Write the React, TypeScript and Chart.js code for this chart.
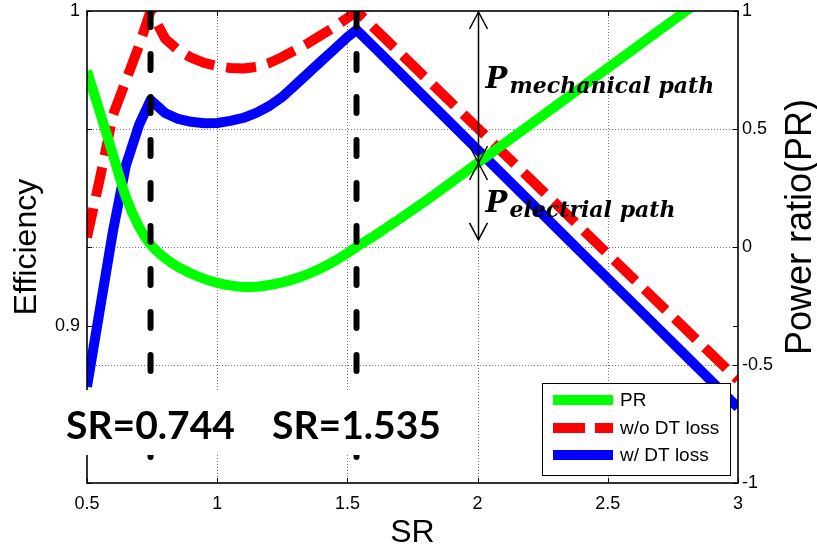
import React, { useEffect, useRef } from "react";
import { Chart, registerables } from "chart.js";

Chart.register(...registerables);

// ---- data ----
const SR = [0.5, 0.55, 0.6, 0.65, 0.7, 0.744, 0.8, 0.85, 0.9, 0.95, 1.0, 1.05, 1.1, 1.15, 1.2, 1.25, 1.3, 1.35, 1.4, 1.45, 1.5, 1.535, 1.6, 1.8, 2.0, 2.2, 2.4, 2.6, 2.8, 3.0];
const PR = [0.746, 0.57, 0.39, 0.21, 0.085, 0.01, -0.047, -0.085, -0.112, -0.135, -0.152, -0.163, -0.169, -0.168, -0.161, -0.15, -0.134, -0.114, -0.089, -0.06, -0.026, 0.0, 0.045, 0.195, 0.356, 0.517, 0.678, 0.839, 1.0, 1.16];
const EFF_NO_DT = [0.928, 0.947, 0.967, 0.978, 0.989, 1.0, 0.9912, 0.9876, 0.9852, 0.9835, 0.9825, 0.9819, 0.9817, 0.9822, 0.9835, 0.9854, 0.9876, 0.9898, 0.9924, 0.9949, 0.9978, 1.0, 0.9948, 0.9788, 0.9628, 0.9468, 0.9308, 0.9148, 0.8988, 0.8828];
const EFF_DT = [0.8806, 0.9054, 0.9302, 0.9511, 0.9638, 0.9717, 0.9676, 0.9657, 0.9648, 0.9643, 0.9644, 0.9651, 0.966, 0.9676, 0.9698, 0.9727, 0.9765, 0.9803, 0.9841, 0.9879, 0.9917, 0.994, 0.9887, 0.9723, 0.9559, 0.9395, 0.9231, 0.9068, 0.8904, 0.874];

const MARK_SR = [0.744, 1.535];
const MARK_LABELS = ["SR=0.744", "SR=1.535"];

const X_TICKS = [0.5, 1, 1.5, 2, 2.5, 3];
const LEFT_TICKS = [0.9, 1];
const RIGHT_TICKS = [-1, -0.5, 0, 0.5, 1];
const EFF_MIN = 0.85;
const EFF_MAX = 1.0;

const LEGEND_LABELS = ["PR", "w/o DT loss", "w/ DT loss"];
const ANNOT_SR = 2;
const ANNOT_PR = [1, 0.356, 0.03]; // top, junction, bottom of the arrows
const ANNOT_MAIN = ["P", "P"];
const ANNOT_SUB = ["mechanical path", "electrial path"];

const SANS = "'Liberation Sans', Arial, sans-serif";
const GREEN = "#00ff00";
const RED = "#ff0000";
const BLUE = "#0000ff";

const pts = (ys: number[]) => SR.map((x, i) => ({ x, y: ys[i] }));

function arrowHead(ctx: CanvasRenderingContext2D, x: number, y: number, dir: number) {
  // dir = -1 points up, +1 points down
  ctx.beginPath();
  ctx.moveTo(x - 9, y - dir * 17);
  ctx.lineTo(x, y);
  ctx.lineTo(x + 9, y - dir * 17);
  ctx.stroke();
}

const decor = {
  id: "decor",
  beforeDatasetsDraw(chart: any) {
    const { ctx, chartArea: a, scales } = chart;
    const xs = scales.x;
    const yr = scales.y1;
    ctx.save();
    ctx.strokeStyle = "rgba(0,0,0,0.55)";
    ctx.lineWidth = 1;
    ctx.setLineDash([1, 2]);
    for (const v of X_TICKS) {
      const px = Math.round(xs.getPixelForValue(v)) + 0.5;
      if (px <= a.left + 2 || px >= a.right - 2) continue;
      ctx.beginPath();
      ctx.moveTo(px, a.top);
      ctx.lineTo(px, a.bottom);
      ctx.stroke();
    }
    for (const v of RIGHT_TICKS) {
      const py = Math.round(yr.getPixelForValue(v)) + 0.5;
      if (py <= a.top + 2 || py >= a.bottom - 2) continue;
      ctx.beginPath();
      ctx.moveTo(a.left, py);
      ctx.lineTo(a.right, py);
      ctx.stroke();
    }
    ctx.restore();
  },
  afterDraw(chart: any) {
    const { ctx, chartArea: a, scales } = chart;
    const xs = scales.x;
    const yl = scales.y;
    const yr = scales.y1;
    ctx.save();
    ctx.setLineDash([]);
    // ticks (inward)
    ctx.strokeStyle = "#000";
    ctx.lineWidth = 1;
    const tl = 5;
    for (const v of X_TICKS) {
      const px = Math.round(xs.getPixelForValue(v)) + 0.5;
      ctx.beginPath();
      ctx.moveTo(px, a.bottom);
      ctx.lineTo(px, a.bottom - tl);
      ctx.moveTo(px, a.top);
      ctx.lineTo(px, a.top + tl);
      ctx.stroke();
    }
    const hTicks = [...LEFT_TICKS.map((v) => yl.getPixelForValue(v)), ...RIGHT_TICKS.map((v) => yr.getPixelForValue(v))];
    for (const p of hTicks) {
      const py = Math.round(p) + 0.5;
      ctx.beginPath();
      ctx.moveTo(a.left, py);
      ctx.lineTo(a.left + tl, py);
      ctx.moveTo(a.right, py);
      ctx.lineTo(a.right - tl, py);
      ctx.stroke();
    }
    // box
    ctx.lineWidth = 1.6;
    ctx.strokeRect(a.left, a.top, a.right - a.left, a.bottom - a.top);

    // SR labels with white background
    ctx.font = "bold 39px Lato, 'Noto Sans', sans-serif";
    ctx.textAlign = "center";
    ctx.textBaseline = "alphabetic";
    const boxTop = a.bottom - 93;
    const boxBottom = a.bottom - 28;
    MARK_SR.forEach((v, i) => {
      const cx = xs.getPixelForValue(v);
      const w = ctx.measureText(MARK_LABELS[i]).width;
      ctx.fillStyle = "#fff";
      ctx.fillRect(cx - w / 2 - 22, boxTop, w + 44, boxBottom - boxTop);
    });
    ctx.fillStyle = "#000";
    MARK_SR.forEach((v, i) => {
      const cx = xs.getPixelForValue(v);
      ctx.fillText(MARK_LABELS[i], cx, a.bottom - 44);
    });

    // double arrows
    const ax = Math.round(xs.getPixelForValue(ANNOT_SR)) + 0.5;
    const yTop = yr.getPixelForValue(ANNOT_PR[0]);
    const yMid = yr.getPixelForValue(ANNOT_PR[1]);
    const yBot = yr.getPixelForValue(ANNOT_PR[2]);
    ctx.strokeStyle = "#000";
    ctx.lineWidth = 1.5;
    ctx.beginPath();
    ctx.moveTo(ax, yTop);
    ctx.lineTo(ax, yBot);
    ctx.stroke();
    arrowHead(ctx, ax, yTop + 1, -1);
    arrowHead(ctx, ax, yMid, 1);
    arrowHead(ctx, ax, yMid, -1);
    arrowHead(ctx, ax, yBot, 1);

    // P labels
    ctx.textAlign = "left";
    ctx.fillStyle = "#000";
    const base = [yMid - 75, yMid + 49];
    ANNOT_MAIN.forEach((t, i) => {
      ctx.font = "bold italic 29px 'DejaVu Serif', serif";
      ctx.fillText(t, ax + 7, base[i]);
      ctx.font = "bold italic 22px 'DejaVu Serif', serif";
      ctx.fillText(ANNOT_SUB[i], ax + 31, base[i] + 5);
    });

    // legend
    const lw = 188;
    const lh = 92;
    const lx = a.right - 8 - lw;
    const ly = a.bottom - 8 - lh;
    ctx.fillStyle = "#fff";
    ctx.fillRect(lx, ly, lw, lh);
    ctx.strokeStyle = "#000";
    ctx.lineWidth = 1;
    ctx.strokeRect(lx + 0.5, ly + 0.5, lw, lh);
    const colors = [GREEN, RED, BLUE];
    const rows = [17, 45, 72];
    ctx.font = `19px ${SANS}`;
    ctx.textBaseline = "middle";
    LEGEND_LABELS.forEach((t, i) => {
      const y = ly + rows[i];
      ctx.strokeStyle = colors[i];
      ctx.lineWidth = 10;
      ctx.lineCap = "butt";
      ctx.setLineDash(i === 1 ? [32, 10] : []);
      ctx.beginPath();
      ctx.moveTo(lx + 11, y);
      ctx.lineTo(lx + 71, y);
      ctx.stroke();
      ctx.setLineDash([]);
      ctx.fillStyle = "#000";
      ctx.fillText(t, lx + 78, y + 1);
    });

    // right axis title (reads bottom to top)
    ctx.save();
    ctx.translate(801, (a.top + a.bottom) / 2 - 20);
    ctx.rotate(-Math.PI / 2);
    ctx.textAlign = "center";
    ctx.textBaseline = "middle";
    ctx.font = `36px ${SANS}`;
    ctx.fillStyle = "#000";
    ctx.fillText("Power ratio(PR)", 0, 0);
    ctx.restore();

    ctx.restore();
  },
};

const fmt = (v: any) => String(v);

export default function App() {
  const ref = useRef<HTMLCanvasElement>(null);
  useEffect(() => {
    document.body.style.margin = "0";
    const canvas = ref.current!;
    const markerStyle = {
      yAxisID: "y",
      borderColor: "#000",
      borderWidth: 6,
      borderDash: [16, 27],
      borderCapStyle: "round",
      pointRadius: 0,
      order: 0,
      clip: 0,
    };
    const chart = new Chart(canvas, {
      type: "line",
      data: {
        datasets: [
          { label: "marker1", data: [{ x: MARK_SR[0], y: EFF_MAX }, { x: MARK_SR[0], y: EFF_MIN }], ...markerStyle },
          { label: "marker2", data: [{ x: MARK_SR[1], y: EFF_MAX }, { x: MARK_SR[1], y: EFF_MIN }], ...markerStyle },
          {
            label: LEGEND_LABELS[0],
            data: pts(PR),
            yAxisID: "y1",
            borderColor: GREEN,
            borderWidth: 10,
            pointRadius: 0,
            cubicInterpolationMode: "monotone",
            order: 1,
            clip: 0,
          },
          {
            label: LEGEND_LABELS[2],
            data: pts(EFF_DT),
            yAxisID: "y",
            borderColor: BLUE,
            borderWidth: 10,
            pointRadius: 0,
            tension: 0,
            borderJoinStyle: "round",
            order: 2,
            clip: 0,
          },
          {
            label: LEGEND_LABELS[1],
            data: pts(EFF_NO_DT),
            yAxisID: "y",
            borderColor: RED,
            borderWidth: 10,
            borderDash: [30, 12],
            pointRadius: 0,
            tension: 0,
            borderJoinStyle: "round",
            order: 3,
            clip: 0,
          },
        ],
      } as any,
      options: {
        animation: false,
        responsive: false,
        devicePixelRatio: 1,
        events: [],
        layout: { padding: { top: 11, left: 0, right: 0, bottom: 0 } },
        plugins: { legend: { display: false }, tooltip: { enabled: false } },
        scales: {
          x: {
            type: "linear",
            min: 0.5,
            max: 3,
            grid: { display: false, drawTicks: false },
            border: { display: false },
            afterBuildTicks: (s: any) => {
              s.ticks = X_TICKS.map((value) => ({ value }));
            },
            afterFit: (s: any) => {
              s.height = 66;
              s.paddingLeft = 0;
              s.paddingRight = 0;
            },
            ticks: { color: "#000", font: { size: 18, family: SANS }, padding: 10, maxRotation: 0, callback: fmt },
            title: {
              display: true,
              text: "SR",
              color: "#000",
              font: { size: 32, family: SANS, lineHeight: 1 },
              padding: { top: 0, bottom: 0 },
            },
          },
          y: {
            type: "linear",
            position: "left",
            min: EFF_MIN,
            max: EFF_MAX,
            grid: { display: false, drawTicks: false },
            border: { display: false },
            afterBuildTicks: (s: any) => {
              s.ticks = LEFT_TICKS.map((value) => ({ value }));
            },
            afterFit: (s: any) => {
              s.width = 87;
              s.paddingTop = 0;
              s.paddingBottom = 0;
            },
            ticks: { color: "#000", font: { size: 18, family: SANS }, padding: 7, callback: fmt },
            title: {
              display: true,
              text: "Efficiency",
              color: "#000",
              font: { size: 32, family: SANS, lineHeight: 1 },
              padding: { top: 11, bottom: 0 },
            },
          },
          y1: {
            type: "linear",
            position: "right",
            min: -1,
            max: 1,
            grid: { display: false, drawTicks: false },
            border: { display: false },
            afterBuildTicks: (s: any) => {
              s.ticks = RIGHT_TICKS.map((value) => ({ value }));
            },
            afterFit: (s: any) => {
              s.width = 79;
              s.paddingTop = 0;
              s.paddingBottom = 0;
            },
            ticks: { color: "#000", font: { size: 18, family: SANS }, padding: 4, callback: fmt },
          },
        },
      } as any,
      plugins: [decor],
    });
    return () => chart.destroy();
  }, []);
  return (
    <div style={{ width: 817, height: 549, background: "#fff" }}>
      <canvas ref={ref} width={817} height={549} style={{ display: "block", width: 817, height: 549 }} />
    </div>
  );
}
